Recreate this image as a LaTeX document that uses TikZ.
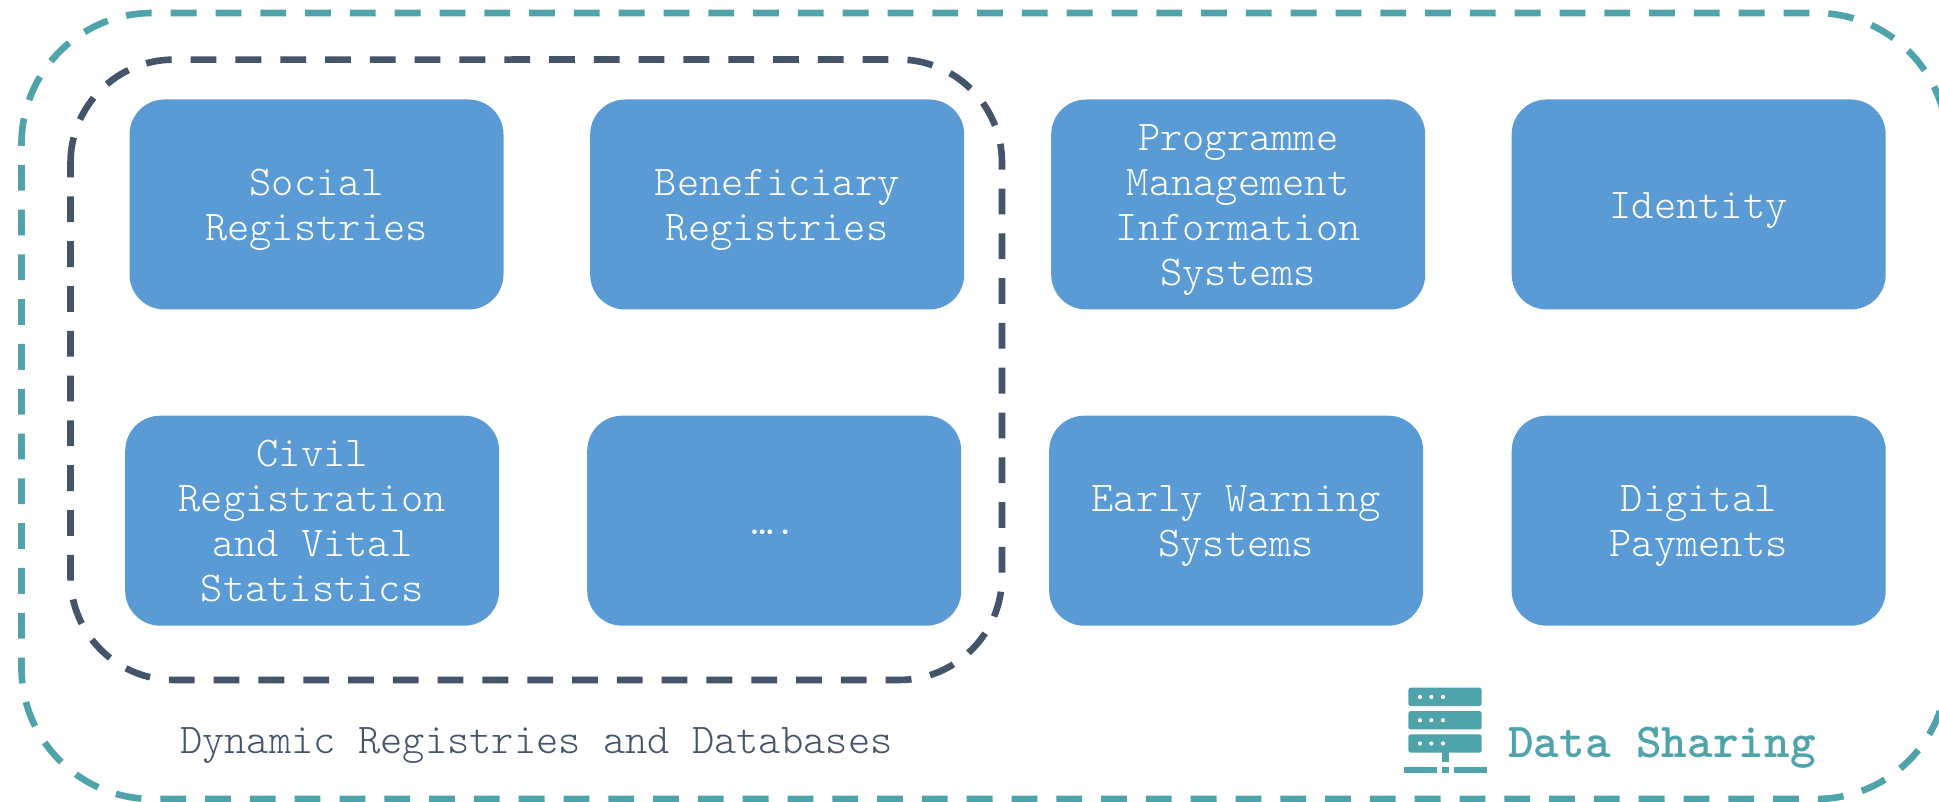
\documentclass[tikz,border=0pt]{standalone}
\usepackage{fontspec}
\setmonofont{Latin Modern Mono Light}
\definecolor{boxblue}{HTML}{5B9BD5}
\definecolor{teal}{HTML}{4FA3AB}
\definecolor{navy}{HTML}{44546A}
\tikzset{
  regbox/.style={fill=boxblue,rounded corners=35pt,minimum width=374pt,minimum height=210pt,inner sep=0pt,anchor=north west},
  regtx/.style={inner sep=0pt,text=white,align=center,yshift=-5.5pt,
    font=\fontsize{42.4}{45}\selectfont\ttfamily,
    execute at begin node={\vphantom{Ag}},execute at end node={\vphantom{Ag}}},
  groupline/.style={line width=6.6pt,dash pattern=on 25.8pt off 19pt},
  iconbar/.style={fill=teal,rounded corners=2.5pt},
  iconbase/.style={fill=teal},
  icondot/.style={fill=white}
}
\begin{document}
\begin{tikzpicture}[x=1pt,y=-1pt]
\path[use as bounding box,fill=white] (0,0) rectangle (1939,802);
\clip (0,0) rectangle (1939,802);
% outer group
\draw[groupline,draw=teal] (21.5,144) arc[start angle=180,end angle=270,radius=131] -- (1816.2,13) arc[start angle=270,end angle=360,radius=131] -- (1947.2,668) arc[start angle=0,end angle=90,radius=131] -- (152.5,799) arc[start angle=90,end angle=180,radius=131] -- cycle;
% inner group
\draw[groupline,draw=navy] (70.5,163) arc[start angle=180,end angle=270,radius=103.4] -- (898.6,59.5) arc[start angle=270,end angle=360,radius=103.4] -- (1002,576.6) arc[start angle=0,end angle=90,radius=103.4] -- (173.9,680) arc[start angle=90,end angle=180,radius=103.4] -- cycle;
% boxes
\node[regbox] (social) at (129.3,99.3) {};
\node[regbox] (benef) at (590,99.3) {};
\node[regbox] (pmis) at (1051,99.3) {};
\node[regbox] (identity) at (1511.5,99.3) {};
\node[regbox] (civil) at (125,415.5) {};
\node[regbox] (more) at (587,415.5) {};
\node[regbox] (early) at (1049,415.5) {};
\node[regbox] (digital) at (1511.5,415.5) {};
\node[regtx] (socialt) at (social) {Social\\Registries};
\node[regtx] (beneft) at (benef) {Beneficiary\\Registries};
\node[regtx] (pmist) at (pmis) {Programme\\Management\\Information\\Systems};
\node[regtx] (identityt) at (identity) {Identity};
\node[regtx] (civilt) at (civil) {Civil\\Registration\\and Vital\\Statistics};
\node[regtx] (moret) at (more) {….};
\node[regtx] (earlyt) at (early) {Early Warning\\Systems};
\node[regtx] (digitalt) at (digital) {Digital\\Payments};
% labels
\node[anchor=base west,inner sep=0pt,text=navy,font=\fontsize{42.4}{44.6}\selectfont\ttfamily] (dyn) at (180,753) {Dynamic Registries and Databases};
\node[anchor=base west,inner sep=0pt,text=teal,font=\fontsize{48.8}{50}\selectfont\ttfamily\bfseries] (share) at (1508,757) {Data Sharing};
% server icon
\foreach \t in {687.7,711,734.3}{
  \fill[iconbar] (1408.3,\t) rectangle (1481.7,\t+18.4);
  \foreach \d in {1420,1431.3,1443}{\fill[icondot] (\d,\t+9.2) circle[radius=2.1];}
}
\fill[iconbase] (1442,752) rectangle (1449,761.7);
\fill[iconbase] (1404.3,766.7) rectangle (1437,773.3);
\fill[iconbase] (1442,766.7) rectangle (1449,773.3);
\fill[iconbase] (1453.7,766.7) rectangle (1486.7,773.3);
\end{tikzpicture}
\end{document}
